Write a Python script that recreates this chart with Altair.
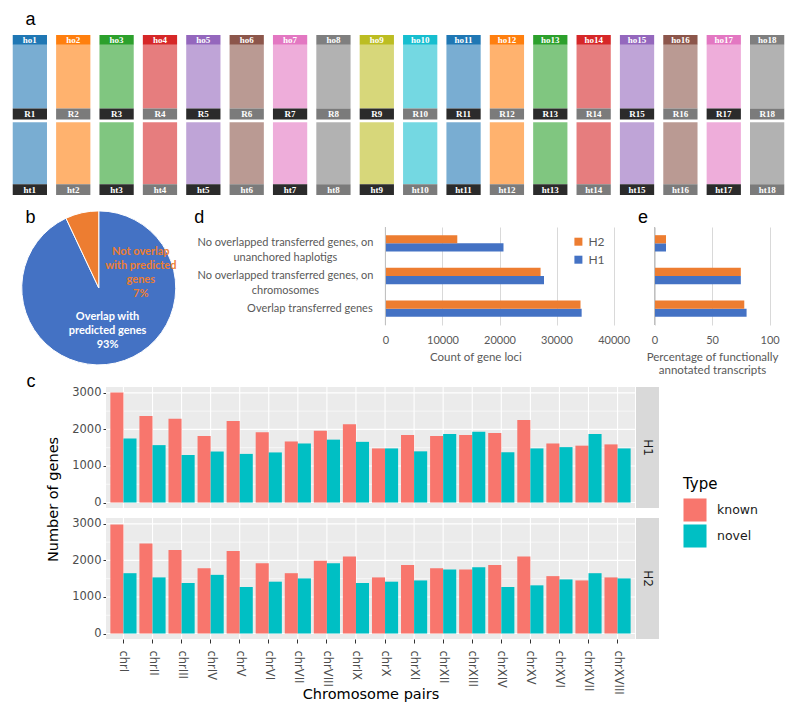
import altair as alt
import pandas as pd

# ---------------- data: panel a ----------------
a_top = ["ho1", "ho2", "ho3", "ho4", "ho5", "ho6", "ho7", "ho8", "ho9",
         "ho10", "ho11", "ho12", "ho13", "ho14", "ho15", "ho16", "ho17", "ho18"]
a_mid = ["R1", "R2", "R3", "R4", "R5", "R6", "R7", "R8", "R9",
         "R10", "R11", "R12", "R13", "R14", "R15", "R16", "R17", "R18"]
a_bot = ["ht1", "ht2", "ht3", "ht4", "ht5", "ht6", "ht7", "ht8", "ht9",
         "ht10", "ht11", "ht12", "ht13", "ht14", "ht15", "ht16", "ht17", "ht18"]
a_colors = ["#1f77b4", "#ff7f0e", "#2ca02c", "#d62728", "#9467bd", "#8c564b",
            "#e377c2", "#7f7f7f", "#bcbd22", "#17becf", "#1f77b4", "#ff7f0e",
            "#2ca02c", "#d62728", "#9467bd", "#8c564b", "#e377c2", "#7f7f7f"]

# ---------------- data: panel b ----------------
b_cats = ["Overlap with predicted genes", "Not overlap with predicted genes"]
b_vals = [93, 7]

# ---------------- data: panel d / e ----------------
d_labels = ["No overlapped transferred genes, on\nunanchored haplotigs",
            "No overlapped transferred genes, on\nchromosomes",
            "Overlap transferred genes"]
d_h1 = [20700, 27800, 34400]
d_h2 = [12600, 27200, 34200]
e_h1 = [10, 75, 80]
e_h2 = [10, 75, 78]

# ---------------- data: panel c ----------------
c_chroms = ["chrI", "chrII", "chrIII", "chrIV", "chrV", "chrVI", "chrVII", "chrVIII",
            "chrIX", "chrX", "chrXI", "chrXII", "chrXIII", "chrXIV", "chrXV", "chrXVI",
            "chrXVII", "chrXVIII"]
c_h1_known = [3010, 2370, 2290, 1820, 2230, 1925, 1670, 1960, 2140, 1480,
              1845, 1820, 1845, 1905, 2260, 1615, 1555, 1590]
c_h1_novel = [1750, 1570, 1300, 1395, 1330, 1370, 1615, 1720, 1660, 1480,
              1400, 1875, 1935, 1375, 1480, 1515, 1875, 1480]
c_h2_known = [2980, 2460, 2285, 1785, 2258, 1925, 1650, 1988, 2105, 1535,
              1872, 1785, 1750, 1872, 2105, 1570, 1452, 1535]
c_h2_novel = [1650, 1535, 1382, 1605, 1272, 1418, 1507, 1925, 1382, 1418,
              1452, 1750, 1810, 1272, 1318, 1480, 1650, 1507]
c_major = [0, 1000, 2000, 3000]
c_minor = [500, 1500, 2500]

BLUE, ORANGE = "#4472C4", "#ED7D31"
XLTXT = "#595959"
ONE = pd.DataFrame({"t": [""]})
LETTER = dict(fontSize=18, font="Liberation Sans", color="black", align="left",
              baseline="alphabetic")


def spacer(h):
    return alt.Chart(ONE).mark_text().encode(text="t:N").properties(width=1, height=h)


def letter_mark(t, x, y):
    return alt.Chart(pd.DataFrame({"t": [t]})).mark_text(**LETTER).encode(
        text="t:N", x=alt.value(x), y=alt.value(y))


# ================= panel a =================
SEGS = [("top", 0, 10, "box"), ("rib1", 10, 75, "rib"), ("mid", 75, 86, "box"),
        ("rib2", 89, 152, "rib"), ("bot", 152, 163, "box")]
rows = []
for i in range(18):
    shade = "#2b2b2b" if i % 2 == 0 else "#7b7b7b"
    labels = {"top": a_top[i], "mid": a_mid[i], "bot": a_bot[i]}
    for seg, y0, y1, kind in SEGS:
        if seg == "top":
            fill, op = a_colors[i], 1.0
        elif kind == "rib":
            fill, op = a_colors[i], 0.6
        else:
            fill, op = shade, 1.0
        rows.append(dict(col=i + 1, seg=seg, y0=y0, y1=y1, ym=(y0 + y1) / 2,
                         fill=fill, op=op, label=labels.get(seg, "")))
a_df = pd.DataFrame(rows)
a_x = alt.X("col:O", axis=None, scale=alt.Scale(paddingInner=0.21, paddingOuter=0.04))
a_yscale = alt.Scale(domain=[0, 163], reverse=True, nice=False, zero=False)
a_rect = alt.Chart(a_df).mark_rect().encode(
    x=a_x,
    y=alt.Y("y0:Q", axis=None, scale=a_yscale), y2="y1:Q",
    color=alt.Color("fill:N", scale=None),
    opacity=alt.Opacity("op:Q", scale=None))
a_text = alt.Chart(a_df).transform_filter("datum.label != ''").mark_text(
    font="Liberation Serif", fontWeight="bold", fontSize=9, color="white").encode(
    x=a_x, y=alt.Y("ym:Q", axis=None, scale=a_yscale), text="label:N")
panel_a = alt.layer(a_rect, a_text, letter_mark("a", 14.6, -9.8)).properties(width=775, height=160)

# ================= row b / d / e (one view) =================
BW, BH = 775, 98
PIE_CX, PIE_CY = 87.75, 60.9
b_df = pd.DataFrame({"cat": b_cats, "value": b_vals, "ord": [0, 1]})
pie = alt.Chart(b_df).mark_arc(outerRadius=77, stroke="white", strokeWidth=1).encode(
    theta=alt.Theta("value:Q", stack=True),
    color=alt.Color("cat:N", scale=alt.Scale(domain=b_cats, range=[BLUE, ORANGE]), legend=None),
    order=alt.Order("ord:Q"),
    x=alt.value(PIE_CX), y=alt.value(PIE_CY))
PIE_TXT = dict(lineBreak="\n", lineHeight=14, font="Lato", fontWeight="bold", fontSize=11,
               baseline="middle")
b_txt1 = alt.Chart(pd.DataFrame({"t": [f"Overlap with\npredicted genes\n{b_vals[0]}%"]})).mark_text(
    theta=2.85, radius=30.7, color="white", **PIE_TXT).encode(
    text="t:N", x=alt.value(PIE_CX), y=alt.value(PIE_CY))
b_txt2 = alt.Chart(pd.DataFrame({"t": [f"Not overlap\nwith predicted\ngenes\n{b_vals[1]}%"]})).mark_text(
    theta=0.86, radius=55.5, color=ORANGE, **PIE_TXT).encode(
    text="t:N", x=alt.value(PIE_CX), y=alt.value(PIE_CY))

DX0, DX1 = 374.4, 602.6
EX0, EX1 = 643.5, 758.6
y_band = alt.Scale(domain=d_labels, paddingInner=0.5, paddingOuter=0.25)


def hbar(h1, h2, domain, rng, values, title, title_x, legend):
    rows = []
    for i, c in enumerate(d_labels):
        rows.append(dict(cat=c, series="H1", value=h1[i]))
        rows.append(dict(cat=c, series="H2", value=h2[i]))
    df = pd.DataFrame(rows)
    xsc = alt.Scale(domain=domain, range=rng, nice=False, zero=False)
    xax = alt.Axis(orient="bottom", values=values, grid=True, gridColor="#D9D9D9", domain=False,
                   ticks=False, labelFont="Lato", labelFontSize=11, labelColor=XLTXT,
                   labelPadding=9, format="d", title=title, titleFont="Lato", titleFontSize=11.5,
                   titleFontWeight="normal", titleColor=XLTXT, titlePadding=6, titleX=title_x,
                   labelFlush=False)
    bars = alt.Chart(df).mark_bar().encode(
        y=alt.Y("cat:N", sort=d_labels, scale=y_band, axis=None),
        yOffset=alt.YOffset("series:N", sort=["H2", "H1"]),
        x=alt.X("value:Q", scale=xsc, axis=xax),
        color=alt.Color("series:N", scale=alt.Scale(domain=["H2", "H1"], range=[ORANGE, BLUE]),
                        legend=legend))
    zero_line = alt.Chart(pd.DataFrame({"value": [0]})).mark_rule(color="#BFBFBF").encode(
        x=alt.X("value:Q", scale=xsc, axis=xax), y=alt.value(0), y2=alt.value(BH))
    return alt.layer(bars, zero_line)


d_legend = alt.Legend(orient="none", legendX=DX0 + 187, legendY=8.7, title=None,
                      symbolType="square", symbolSize=64, symbolStrokeWidth=0,
                      labelFont="Lato", labelFontSize=12, labelColor=XLTXT, rowPadding=6,
                      labelOffset=4)
panel_d = hbar(d_h1, d_h2, [0, 40000], [DX0, DX1], [0, 10000, 20000, 30000, 40000],
               "Count of gene loci", DX0 + 90, d_legend)
panel_e = hbar(e_h1, e_h2, [0, 100], [EX0, EX1], [0, 50, 100],
               ["Percentage of functionally", "annotated transcripts"], (EX0 + EX1) / 2, None)

lab = pd.DataFrame({"cat": d_labels, "multi": ["\n" in s for s in d_labels]})
LAB_TXT = dict(lineBreak="\n", lineHeight=14.7, font="Lato", fontSize=11, color=XLTXT,
               baseline="middle")
d_lab1 = alt.Chart(lab).transform_filter("datum.multi").mark_text(align="center", **LAB_TXT).encode(
    y=alt.Y("cat:N", sort=d_labels, scale=y_band, axis=None), x=alt.value(DX0 - 100), text="cat:N")
d_lab2 = alt.Chart(lab).transform_filter("!datum.multi").mark_text(align="right", **LAB_TXT).encode(
    y=alt.Y("cat:N", sort=d_labels, scale=y_band, axis=None), x=alt.value(DX0 - 12.7), text="cat:N")

row_b = alt.layer(pie, b_txt1, b_txt2, panel_d, d_lab1, d_lab2, panel_e,
                  letter_mark("b", 14.6, -3.9), letter_mark("d", 183.3, -3.9),
                  letter_mark("e", 627, -3.9)).resolve_scale(
    x="independent", color="independent").properties(width=BW, height=BH)

# ================= panel c =================
C_FONT = "DejaVu Sans"
CX0, CX1 = 95, 624
PH = 121
CW = 648
c_ysc = alt.Scale(domain=[-150, 3160], nice=False, zero=False)
c_xsc = alt.Scale(domain=c_chroms, range=[CX0, CX1], paddingInner=0.1, paddingOuter=0.15)


def cpanel(known, novel, hap, top):
    rows = []
    for i, c in enumerate(c_chroms):
        rows.append(dict(chrom=c, type="known", value=known[i]))
        rows.append(dict(chrom=c, type="novel", value=novel[i]))
    df = pd.DataFrame(rows)
    yax_common = dict(values=c_major, format="d", grid=False, domain=False, offset=-CX0,
                      tickColor="#333333", tickSize=3, labelColor="#4D4D4D", labelFontSize=11.5,
                      labelFont=C_FONT, labelPadding=2)
    if top:
        xax = None
        yax = alt.Axis(title="Number of genes", titleFont=C_FONT, titleFontSize=14.5,
                       titleFontWeight="normal", titleColor="black", titleX=-46, titleY=112,
                       titleBaseline="bottom", **yax_common)
        legend = alt.Legend(orient="none", legendX=CX0 + 577, legendY=90, title="Type",
                            titleFont=C_FONT, titleFontSize=15, titleFontWeight="normal",
                            titleColor="black", titlePadding=6, labelFont=C_FONT,
                            labelFontSize=12.5, labelColor="#1A1A1A", symbolType="square",
                            symbolSize=530, symbolStrokeWidth=0, symbolOpacity=1,
                            rowPadding=2, labelOffset=10)
    else:
        xax = alt.Axis(grid=False, bandPosition=0.5, domain=False, tickColor="#333333", tickSize=4,
                       labelAngle=90, labelFont=C_FONT, labelFontSize=11.5, labelColor="#4D4D4D",
                       labelPadding=7, title="Chromosome pairs", titleFont=C_FONT,
                       titleFontSize=14.5, titleFontWeight="normal", titleColor="black",
                       titleY=55, titleBaseline="middle")
        yax = alt.Axis(title=None, **yax_common)
        legend = None
    bars = alt.Chart(df).mark_bar().encode(
        x=alt.X("chrom:N", scale=c_xsc, axis=xax),
        xOffset=alt.XOffset("type:N", sort=["known", "novel"]),
        y=alt.Y("value:Q", scale=c_ysc, stack=None, axis=yax),
        color=alt.Color("type:N", scale=alt.Scale(domain=["known", "novel"],
                                                   range=["#F8766D", "#00BFC4"]), legend=legend))
    bg = alt.Chart(ONE).mark_rect(color="#EBEBEB").encode(
        x=alt.value(CX0), x2=alt.value(CX1), y=alt.value(0), y2=alt.value(PH))
    stripbg = alt.Chart(ONE).mark_rect(color="#D9D9D9").encode(
        x=alt.value(CX1 + 1), x2=alt.value(CW), y=alt.value(0), y2=alt.value(PH))
    striptx = alt.Chart(pd.DataFrame({"hap": [hap]})).mark_text(
        angle=90, font=C_FONT, fontSize=12, color="#1A1A1A").encode(
        text="hap:N", x=alt.value((CX1 + 1 + CW) / 2), y=alt.value(PH / 2))
    vgrid = alt.Chart(pd.DataFrame({"chrom": c_chroms})).mark_rule(color="white", strokeWidth=1.1).encode(
        x=alt.X("chrom:N", scale=c_xsc, axis=xax), y=alt.value(0), y2=alt.value(PH))
    hmaj = alt.Chart(pd.DataFrame({"value": c_major})).mark_rule(color="white", strokeWidth=1.1).encode(
        y=alt.Y("value:Q", scale=c_ysc, axis=yax), x=alt.value(CX0), x2=alt.value(CX1))
    hmin = alt.Chart(pd.DataFrame({"value": c_minor})).mark_rule(color="white", strokeWidth=0.6).encode(
        y=alt.Y("value:Q", scale=c_ysc, axis=yax), x=alt.value(CX0), x2=alt.value(CX1))
    layers = [bg, stripbg, striptx, vgrid, hmaj, hmin, bars]
    if top:
        layers.append(letter_mark("c", 15.6, -0.3))
    return alt.layer(*layers).properties(width=CW, height=PH)


c_top = cpanel(c_h1_known, c_h1_novel, "H1", True)
c_bot = cpanel(c_h2_known, c_h2_novel, "H2", False)

# ================= layout =================
chart = alt.vconcat(panel_a, spacer(32), row_b, spacer(61.1), c_top, spacer(10), c_bot,
                    spacing=0, bounds="flush").resolve_scale(
    color="independent", opacity="independent").properties(padding=3).configure_view(stroke=None)

chart.save("out.html", embed_options={"renderer": "svg", "actions": False})
